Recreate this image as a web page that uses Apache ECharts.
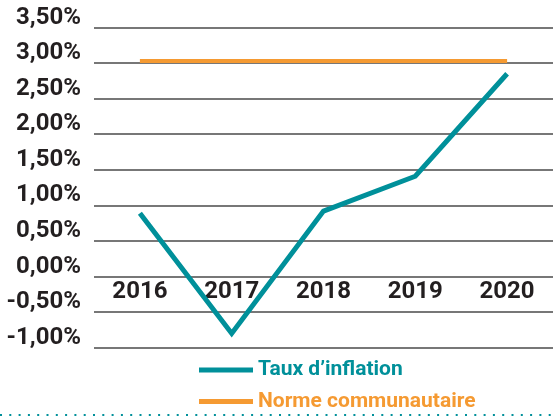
<!DOCTYPE html>
<html>
<head>
<meta charset="utf-8">
<script src="https://cdn.jsdelivr.net/npm/echarts@6/dist/echarts.min.js"></script>
<style>
  html, body { margin: 0; padding: 0; background: #fff; }
  #chart { width: 553px; height: 417px; }
</style>
</head>
<body>
<div id="chart"></div>
<script>
// données
const years = ['2016', '2017', '2018', '2019', '2020']
const inflation = [0.89, -0.80, 0.92, 1.41, 2.85]
const norme = [3.03, 3.03, 3.03, 3.03, 3.03]
const seriesNames = ['Taux d\u2019inflation', 'Norme communautaire']
const yMin = -1
const yMax = 3.5

const teal = '#00909a'
const orange = '#f59a32'
const grey = '#4a4a4a'
const font = 'Roboto, sans-serif'

const gridTop = 27.5
const gridBottom = 69.3
const plotH = 417 - gridTop - gridBottom
// l'axe des années est posé sur la ligne 0 %
const xOffset = -plotH * (0 - yMin) / (yMax - yMin)

const chart = echarts.init(document.getElementById('chart'))

const legendBase = {
  orient: 'vertical',
  left: 194,
  itemWidth: 54,
  itemHeight: 5,
  icon: 'rect',
  textStyle: { fontFamily: font, fontWeight: 'bold', fontSize: 21 }
}

chart.setOption({
  animation: false,
  grid: { left: 94, right: 0, top: gridTop, bottom: gridBottom, outerBoundsMode: 'none' },
  xAxis: {
    type: 'category',
    data: years,
    boundaryGap: true,
    offset: xOffset,
    axisLine: { show: false, onZero: false },
    axisTick: { show: false },
    axisLabel: {
      margin: 3,
      color: '#231f20',
      fontFamily: font,
      fontWeight: 'bold',
      fontSize: 24
    }
  },
  yAxis: {
    type: 'value',
    min: yMin,
    max: yMax,
    interval: 0.5,
    axisLine: { show: false },
    axisTick: { show: false },
    splitLine: { lineStyle: { color: grey, width: 1.5 } },
    axisLabel: {
      margin: 13,
      color: '#231f20',
      fontFamily: font,
      fontWeight: 'bold',
      fontSize: 24,
      verticalAlign: 'bottom',
      lineHeight: 20,
      formatter: v => v.toFixed(2).replace('.', ',') + '%'
    }
  },
  legend: [
    Object.assign({}, legendBase, {
      top: 354.5,
      data: [{ name: seriesNames[0], textStyle: { color: teal } }]
    }),
    Object.assign({}, legendBase, {
      top: 386,
      data: [{ name: seriesNames[1], textStyle: { color: orange } }]
    })
  ],
  graphic: [{
    type: 'line',
    shape: { x1: 0, y1: 415, x2: 553, y2: 415 },
    style: { stroke: teal, lineWidth: 2, lineDash: [2, 7.3] }
  }],
  series: [
    {
      name: seriesNames[0],
      type: 'line',
      data: inflation,
      symbol: 'none',
      color: teal,
      lineStyle: { width: 5, color: teal, join: 'miter', cap: 'butt' },
      z: 3
    },
    {
      name: seriesNames[1],
      type: 'line',
      data: norme,
      symbol: 'none',
      color: orange,
      lineStyle: { width: 4, color: orange, cap: 'butt' },
      z: 2
    }
  ]
})
</script>
</body>
</html>
